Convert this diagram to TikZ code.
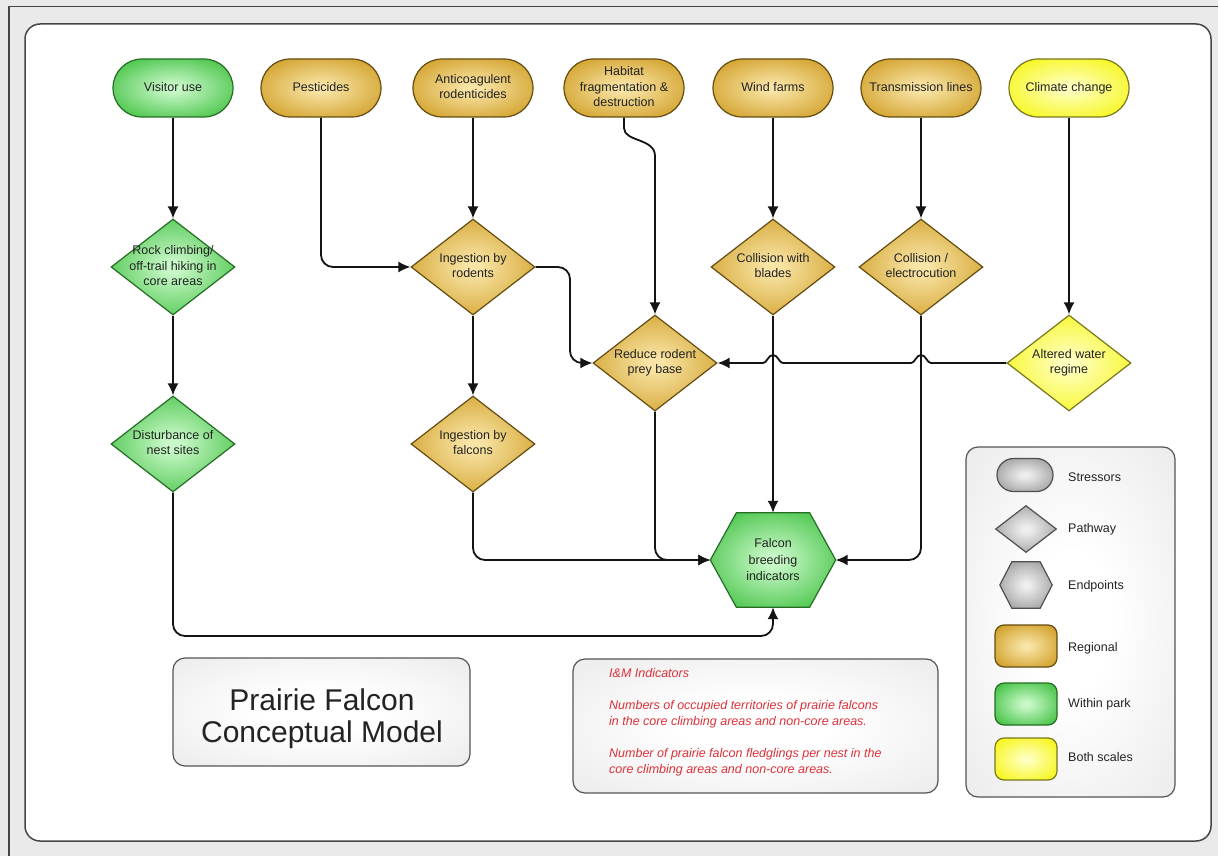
\documentclass[tikz,border=0pt]{standalone}
\usepackage{fontspec}
\setmainfont{Liberation Sans}
\usetikzlibrary{arrows.meta,shapes.geometric,shapes.misc}
\makeatletter
\pgfdeclareradialshading[tikz@radial@inner,tikz@radial@outer]{softglow}{\pgfpoint{0bp}{0bp}}{color(0bp)=(tikz@radial@inner); color(3bp)=(tikz@radial@inner); color(34bp)=(tikz@radial@outer); color(50bp)=(tikz@radial@outer)}
\pgfdeclareradialshading[tikz@radial@inner,tikz@radial@outer]{panelglow}{\pgfpoint{0bp}{0bp}}{color(0bp)=(tikz@radial@inner); color(10bp)=(tikz@radial@inner); color(48bp)=(tikz@radial@outer); color(50bp)=(tikz@radial@outer)}
\makeatother
\definecolor{bggray}{RGB}{234,234,234}
\definecolor{frameline}{RGB}{70,70,70}
\definecolor{goldin}{RGB}{248,228,165}
\definecolor{goldout}{RGB}{206,154,30}
\definecolor{goldline}{RGB}{100,76,18}
\definecolor{greenin}{RGB}{200,248,200}
\definecolor{greenout}{RGB}{58,190,58}
\definecolor{greenline}{RGB}{36,110,36}
\definecolor{yelin}{RGB}{255,255,190}
\definecolor{yelout}{RGB}{245,245,10}
\definecolor{yelline}{RGB}{120,120,28}
\definecolor{grayin}{RGB}{238,238,238}
\definecolor{grayout}{RGB}{148,148,148}
\definecolor{grayline}{RGB}{80,80,80}
\definecolor{panelout}{RGB}{226,226,226}
\definecolor{panelline}{RGB}{85,85,85}
\definecolor{txtgray}{RGB}{35,35,35}
\definecolor{arrgray}{RGB}{20,20,20}
\definecolor{indred}{RGB}{220,50,58}
\newcommand{\mltxt}[1]{\makebox[0pt]{\begin{tabular}{@{}c@{}}#1\end{tabular}}}
\tikzset{
  shadebase/.style={line width=1.2pt},
  fgold/.style={shadebase, draw=goldline, inner color=goldin, outer color=goldout, shading=softglow},
  fgreen/.style={shadebase, draw=greenline, inner color=greenin, outer color=greenout, shading=softglow},
  fyel/.style={shadebase, draw=yelline, inner color=yelin, outer color=yelout, shading=softglow},
  fgray/.style={shadebase, draw=grayline, inner color=grayin, outer color=grayout, shading=softglow},
  nodetxt/.style={font=\fontsize{12.5}{15.5}\selectfont, text=txtgray},
  stress/.style={rounded rectangle, minimum width=120pt, minimum height=58pt, inner sep=0pt, nodetxt},
  pathway/.style={diamond, minimum width=124pt, minimum height=96pt, inner sep=0pt, nodetxt},
  arr/.style={-{Latex[length=12pt,width=11pt]}, line width=1.8pt, draw=arrgray},
  rnd/.style={rounded corners=12pt},
  panel/.style={draw=panelline, line width=1.2pt, inner color=white, outer color=panelout, shading=panelglow, rounded corners=12pt, inner sep=0pt},
  legtxt/.style={anchor=west, inner sep=0pt, font=\fontsize{12.5}{14}\selectfont, text=txtgray},
  lbox/.style={rectangle, rounded corners=9pt, minimum width=62pt, minimum height=42pt, inner sep=0pt},
}
\begin{document}
\begin{tikzpicture}[x=1pt,y=-1pt]
\useasboundingbox (0,0) rectangle (1218,856);
\fill[bggray] (0,0) rectangle (1218,856);
\draw[frameline, line width=1.3pt] (9,856) -- (9,6.5) -- (1218,6.5);
\draw[fill=white, draw=frameline, line width=1.5pt, rounded corners=15pt] (25,24) rectangle (1211,841);

% stressors
\node[stress,fgreen] (vu) at (173,88) {\mltxt{Visitor use}};
\node[stress,fgold] (pe) at (321,88) {\mltxt{Pesticides}};
\node[stress,fgold] (ar) at (473,88) {\mltxt{Anticoagulent\\rodenticides}};
\node[stress,fgold] (hf) at (624,88) {\mltxt{Habitat\\fragmentation \&\\destruction}};
\node[stress,fgold] (wf) at (773,88) {\mltxt{Wind farms}};
\node[stress,fgold] (tl) at (921,88) {\mltxt{Transmission lines}};
\node[stress,fyel] (cc) at (1069,88) {\mltxt{Climate change}};

% pathways
\node[pathway,fgreen] (rc) at (173,267) {\mltxt{Rock climbing/\\off-trail hiking in\\core areas}};
\node[pathway,fgold] (ir) at (473,267) {\mltxt{Ingestion by\\rodents}};
\node[pathway,fgold] (cb) at (773,267) {\mltxt{Collision with\\blades}};
\node[pathway,fgold] (ce) at (921,267) {\mltxt{Collision /\\electrocution}};
\node[pathway,fgold] (rp) at (655,363) {\mltxt{Reduce rodent\\prey base}};
\node[pathway,fyel] (aw) at (1069,363) {\mltxt{Altered water\\regime}};
\node[pathway,fgreen] (dn) at (173,444) {\mltxt{Disturbance of\\nest sites}};
\node[pathway,fgold] (ifa) at (473,444) {\mltxt{Ingestion by\\falcons}};

% endpoint hexagon
\node[minimum width=125pt, minimum height=94pt, inner sep=0pt] (fbi) at (773,560) {};
\path[fgreen] (fbi.west) -- ([xshift=26pt]fbi.north west) -- ([xshift=-26pt]fbi.north east) -- (fbi.east) -- ([xshift=-26pt]fbi.south east) -- ([xshift=26pt]fbi.south west) -- cycle;
\node[nodetxt, font=\fontsize{12.5}{16.5}\selectfont, align=center] (fbitxt) at (fbi.center) {Falcon\\breeding\\indicators};

% connectors
\draw[arr] (vu.south) -- (rc.north);
\draw[arr] (rc.south) -- (dn.north);
\draw[arr,rnd] (dn.south) -- (173,636) -- (773,636) -- (fbi.south);
\draw[arr,rnd] (pe.south) |- (ir.west);
\draw[arr] (ar.south) -- (ir.north);
\draw[arr,rnd] (ir.east) -- (570,267) |- (rp.west);
\draw[arr] (ir.south) -- (ifa.north);
\draw[arr] (hf.south) -- (624,128) .. controls (624,142) and (655,138) .. (655,156) -- (rp.north);
\draw[arr] (wf.south) -- (cb.north);
\draw[arr] (tl.south) -- (ce.north);
\draw[arr] (cc.south) -- (aw.north);
\draw[arr] (cb.south) -- (fbi.north);
\draw[arr,rnd] (ce.south) |- (fbi.east);
\draw[arr,rnd] (rp.south) |- (fbi.west);
\draw[arr,rnd] (ifa.south) |- (fbi.west);
\draw[arr] (aw.west) -- (931,363) .. controls (927,363) and (926,355) .. (921,355) .. controls (916,355) and (915,363) .. (911,363)
  -- (783,363) .. controls (779,363) and (778,355) .. (773,355) .. controls (768,355) and (767,363) .. (763,363) -- (rp.east);

% title panel
\node[panel, minimum width=297pt, minimum height=108pt] (ttl) at (321.5,712) {};
\node[font=\fontsize{30}{32}\selectfont, text=txtgray, align=center] (ttltxt) at (322,719) {Prairie Falcon\\Conceptual Model};

% indicators panel
\node[panel, minimum width=365pt, minimum height=134pt] (ind) at (755.5,726) {};
\node[anchor=north west, inner sep=0pt, align=left, text=indred, font=\fontsize{12.5}{16}\selectfont\itshape] (indtxt) at (609,668)
 {I\&M Indicators\\[16pt]Numbers of occupied territories of prairie falcons\\in the core climbing areas and non-core areas.\\[16pt]Number of prairie falcon fledglings per nest in the\\core climbing areas and non-core areas.};

% legend
\node[panel, minimum width=209pt, minimum height=350pt] (leg) at (1070.5,622) {};
\node[rounded rectangle, minimum width=56pt, minimum height=33pt, inner sep=0pt, fgray] (lgs) at (1025,475) {};
\node[diamond, minimum width=61pt, minimum height=47pt, inner sep=0pt, fgray] (lgp) at (1026,529) {};
\node[minimum width=52pt, minimum height=46pt, inner sep=0pt] (lge) at (1026,585) {};
\path[fgray] (lge.west) -- ([xshift=12pt]lge.north west) -- ([xshift=-12pt]lge.north east) -- (lge.east) -- ([xshift=-12pt]lge.south east) -- ([xshift=12pt]lge.south west) -- cycle;
\node[lbox,fgold] (lgr) at (1026,646) {};
\node[lbox,fgreen] (lgw) at (1026,704) {};
\node[lbox,fyel] (lgb) at (1026,759) {};
\node[legtxt] (tls) at (1068,477) {Stressors};
\node[legtxt] (tlp) at (1068,529) {Pathway};
\node[legtxt] (tle) at (1068,586) {Endpoints};
\node[legtxt] (tlr) at (1068,648) {Regional};
\node[legtxt] (tlw) at (1068,704) {Within park};
\node[legtxt] (tlb) at (1068,757) {Both scales};
\end{tikzpicture}
\end{document}
